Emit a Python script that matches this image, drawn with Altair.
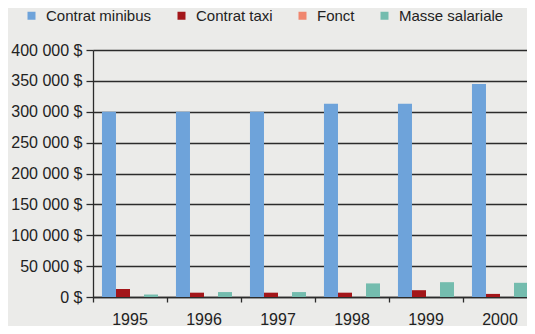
import altair as alt
import pandas as pd

years = ["1995", "1996", "1997", "1998", "1999", "2000"]
series = ["Contrat minibus", "Contrat taxi", "Fonct", "Masse salariale"]
minibus = [300000, 300000, 300000, 313000, 313000, 345000]
taxi = [13000, 7000, 7000, 7000, 11000, 5000]
fonct = [0, 0, 0, 0, 0, 0]
masse = [4000, 8000, 8000, 22000, 24000, 23000]
colors = ["#6ea3da", "#a3161a", "#f0866e", "#74bcae"]
y_ticks = [0, 50000, 100000, 150000, 200000, 250000, 300000, 350000, 400000]

rows = []
for name, vals in zip(series, [minibus, taxi, fonct, masse]):
    for yr, v in zip(years, vals):
        rows.append({"year": yr, "series": name, "value": v})
df = pd.DataFrame(rows)

FONT = "Liberation Sans"
DARK = "#2b2b2b"

chart = alt.Chart(df).mark_bar(strokeWidth=0).encode(
    x=alt.X("year:N", sort=years, title=None,
            scale=alt.Scale(range=[0, 444], paddingInner=0, paddingOuter=0),
            axis=alt.Axis(bandPosition=0, labelAngle=0, tickSize=5,
                          tickColor=DARK, tickWidth=1.3, domainColor=DARK, domainWidth=1.3,
                          labelPadding=9, labelFontSize=16, labelColor="#222",
                          labelFont=FONT, labelOverlap=False, labelFlush=False,
                          labelBound=False, grid=False)),
    xOffset=alt.XOffset("series:N", sort=series,
                        scale=alt.Scale(paddingInner=0, paddingOuter=0.64)),
    y=alt.Y("value:Q", title=None,
            scale=alt.Scale(domain=[0, 400000], nice=False),
            axis=alt.Axis(values=y_ticks, grid=True, gridColor=DARK, gridWidth=1.3,
                          tickColor=DARK, tickSize=7, tickWidth=1.3,
                          domainColor=DARK, domainWidth=1.3,
                          labelFontSize=16, labelColor="#222", labelFont=FONT, labelPadding=4,
                          labelExpr="replace(format(datum.value, ','), regexp(',', 'g'), ' ') + ' $'")),
    color=alt.Color("series:N", sort=series,
                    scale=alt.Scale(domain=series, range=colors),
                    legend=alt.Legend(title=None, orient="none", direction="horizontal",
                                      legendX=-69, legendY=-42, padding=0, symbolType="square",
                                      symbolSize=64, symbolStrokeWidth=0, labelOffset=7,
                                      columnPadding=22, labelFontSize=15, labelFont=FONT,
                                      labelColor="#222")),
).properties(
    width=434, height=247,
    autosize=alt.AutoSizeParams(type="none"),
    padding={"left": 85, "top": 42, "right": 0, "bottom": 29},
    background="#ebebe9",
).configure_view(stroke=None)

chart.save("out.html", embed_options={"renderer": "svg", "actions": False})
